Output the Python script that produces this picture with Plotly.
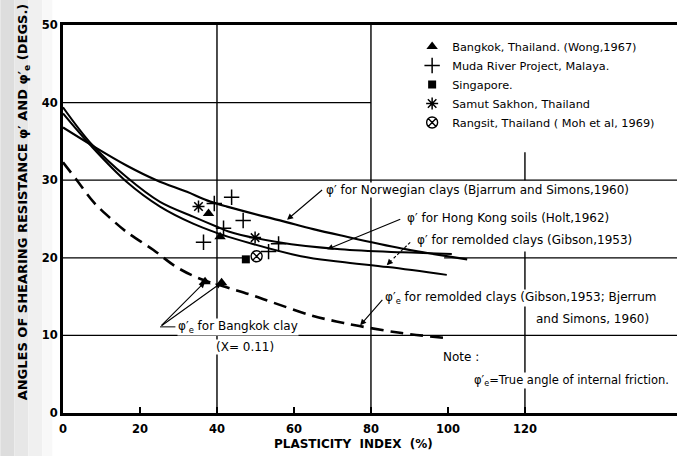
import plotly.graph_objects as go

# ---------------- data ----------------
# phi' for Norwegian clays (Bjerrum and Simons, 1960)
norw_x = [0, 7.5, 16.5, 24.3, 32.2, 37.4, 42.6, 58, 65, 72, 88, 105]
norw_y = [36.8, 34.5, 31.9, 30.0, 28.5, 27.4, 26.6, 24.6, 23.7, 22.9, 21.2, 19.8]
# phi' for Hong Kong soils (Holt, 1962)
hk_x = [0, 7.5, 16.5, 25.2, 33.8, 40, 43, 56, 72, 88, 101]
hk_y = [39.4, 34.6, 30.4, 27.2, 25.3, 24.0, 23.4, 22.0, 21.1, 20.7, 20.5]
# phi' for remolded clays (Gibson, 1953)
rem_x = [0, 7.5, 16.5, 25.2, 33.8, 40, 43, 61.8, 72, 84.4, 99.7]
rem_y = [38.6, 34.3, 29.8, 26.6, 24.4, 23.2, 22.7, 20.2, 19.5, 18.8, 17.8]
# phi'e for remolded clays (dashed)
reme_x = [0, 3.6, 7.9, 12.3, 16.6, 23.5, 29.5, 35.6, 42.5, 49, 56.5, 65, 71, 77, 88, 98.7]
reme_y = [32.3, 30.0, 27.2, 25.1, 23.3, 21.0, 18.8, 17.3, 16.2, 15.2, 13.9, 12.5, 11.8, 11.2, 10.3, 9.7]

# data points
bangkok_x = [37.8, 40.8, 36.9, 41.2]
bangkok_y = [25.7, 22.7, 16.9, 16.8]
muda_x = [39.3, 43.8, 46.8, 41.7, 36.5, 56.0, 53.4]
muda_y = [27.0, 27.8, 24.8, 23.8, 22.0, 21.8, 20.8]
singapore_x = [47.5]
singapore_y = [19.8]
samut_x = [35.2, 49.9]
samut_y = [26.6, 22.6]
rangsit_x = [50.3]
rangsit_y = [20.2]

x_ticks = [0, 20, 40, 60, 80, 100, 120]
y_ticks = [0, 10, 20, 30, 40, 50]

FONT = "DejaVu Sans"
fig = go.Figure()

# curves
fig.add_trace(go.Scatter(x=norw_x, y=norw_y, mode="lines", line=dict(color="black", width=2.2, shape="spline"), showlegend=False))
fig.add_trace(go.Scatter(x=hk_x, y=hk_y, mode="lines", line=dict(color="black", width=2.0, shape="spline"), showlegend=False))
fig.add_trace(go.Scatter(x=rem_x, y=rem_y, mode="lines", line=dict(color="black", width=2.0, shape="spline"), showlegend=False))
fig.add_trace(go.Scatter(x=reme_x, y=reme_y, mode="lines", line=dict(color="black", width=2.6, shape="spline", dash="13px,7px"), showlegend=False))

# points
fig.add_trace(go.Scatter(x=bangkok_x, y=bangkok_y, mode="markers", name="Bangkok, Thailand. (Wong,1967)",
                         marker=dict(symbol="triangle-up", size=10, color="black")))
fig.add_trace(go.Scatter(x=muda_x, y=muda_y, mode="markers", name="Muda River Project, Malaya.",
                         marker=dict(symbol="cross-thin-open", size=11, color="black", line=dict(width=1.5, color="black"))))
fig.add_trace(go.Scatter(x=singapore_x, y=singapore_y, mode="markers", name="Singapore.",
                         marker=dict(symbol="square", size=8, color="black")))
fig.add_trace(go.Scatter(x=samut_x, y=samut_y, mode="markers", name="Samut Sakhon, Thailand",
                         marker=dict(symbol="asterisk-open", size=10, color="black", line=dict(width=1.5, color="black"))))
fig.add_trace(go.Scatter(x=rangsit_x, y=rangsit_y, mode="markers", name="Rangsit, Thailand ( Moh et al, 1969)",
                         marker=dict(symbol="circle-x-open", size=11, color="black", line=dict(width=1.4, color="black"))))

# grid lines (partial, as in the original)
shapes = []
def hline(y, x0, x1):
    shapes.append(dict(type="line", xref="x", yref="y", x0=x0, x1=x1, y0=y, y1=y, line=dict(color="black", width=1.2), layer="below"))
def vline(x, y0, y1):
    shapes.append(dict(type="line", xref="x", yref="y", x0=x, x1=x, y0=y0, y1=y1, line=dict(color="black", width=1.4), layer="below"))
hline(10, 0, 160)
hline(20, 0, 47.5)
hline(20, 99, 160)
hline(30, 0, 160)
hline(40, 0, 80)
vline(40, 0, 50)
vline(80, 0, 50)
vline(120, 0, 20.8)
vline(120, 30, 33.6)
# short leader to Bangkok label
shapes.append(dict(type="line", xref="x", yref="y", x0=25.2, x1=29.2, y0=11.1, y1=11.1, line=dict(color="black", width=1)))
# dashed leader for the remolded-clay phi' label
shapes.append(dict(type="line", xref="x", yref="y", x0=90.2, x1=85.6, y0=22.0, y1=19.8, line=dict(color="black", width=1.1, dash="3px,2px")))

# pixel -> paper helpers (plot area: x 62.7..677, y 25..413)
def px(p):
    return (p - 62.7) / 614.3
def py(p):
    return 1 - (p - 25) / 388

# stippled scan edge on the left
for a, b, c in [(0, 14, "#dddddd"), (14, 28, "#e7e7e7"), (28, 42, "#f0f0f0"), (42, 52, "#f8f8f8")]:
    shapes.append(dict(type="rect", xref="paper", yref="paper", x0=px(a), x1=px(b), y0=py(456), y1=py(0),
                       fillcolor=c, line=dict(width=0), layer="below"))

annotations = []
def label(x, y, text, size=12, anchor="left", bg=True):
    annotations.append(dict(x=x, y=y, xref="x", yref="y", text=text, showarrow=False, xanchor=anchor, yanchor="middle",
                            font=dict(family=FONT, size=size, color="black"),
                            bgcolor="white" if bg else None, borderpad=0))
def arrow(hx, hy, tx, ty):
    annotations.append(dict(x=hx, y=hy, ax=tx, ay=ty, xref="x", yref="y", axref="x", ayref="y", text="",
                            showarrow=True, arrowhead=2, arrowsize=1.1, arrowwidth=1.1, arrowcolor="black",
                            standoff=0, startstandoff=0))

label(68.0, 28.7, "φ′ for Norwegian clays (Bjarrum and Simons,1960)")
arrow(58.2, 24.9, 67.7, 28.9)
label(89.0, 25.1, "φ′ for Hong Kong soils (Holt,1962)")
arrow(68.6, 21.1, 88.0, 25.06)
label(91.6, 22.3, "φ′ for remolded clays (Gibson,1953)")
arrow(84.1, 19.05, 85.7, 19.85)
label(83.5, 14.8, "φ′<sub>e</sub> for remolded clays (Gibson,1953; Bjerrum")
label(122.7, 12.1, "and Simons, 1960)")
arrow(77.2, 11.3, 83.3, 14.76)
label(29.7, 11.1, "φ′<sub>e</sub> for Bangkok clay")
label(47.3, 8.5, "(X= 0.11)", anchor="center")
arrow(36.9, 16.9, 25.2, 11.1)
arrow(41.2, 16.8, 25.2, 11.1)
label(98.5, 7.2, "Note :")
label(106.6, 4.25, "φ′<sub>e</sub>=True angle of internal friction.", size=11.5)

# axis titles
annotations.append(dict(x=px(24), y=py(202), xref="paper", yref="paper", textangle=-90,
                        text="ANGLES OF SHEARING RESISTANCE φ′ AND φ′<sub>e</sub> (DEGS.)", showarrow=False,
                        font=dict(family=FONT, size=13, color="black", weight="bold"), xanchor="center", yanchor="middle"))
annotations.append(dict(x=px(353), y=py(444), xref="paper", yref="paper",
                        text="PLASTICITY\u00a0\u00a0INDEX\u00a0\u00a0(%)", showarrow=False,
                        font=dict(family=FONT, size=12, color="black", weight="bold"), xanchor="center", yanchor="middle"))

fig.update_layout(
    width=677, height=456,
    margin=dict(l=63, r=0, t=25, b=43),
    paper_bgcolor="white", plot_bgcolor="white",
    shapes=shapes, annotations=annotations,
    legend=dict(x=px(412), y=py(32), xanchor="left", yanchor="top", bgcolor="rgba(0,0,0,0)",
                font=dict(family=FONT, size=11.3, color="black"), traceorder="normal"),
    xaxis=dict(range=[0, 159.5], tickvals=x_ticks, ticktext=[str(v) for v in x_ticks], showgrid=False, zeroline=False,
               showline=True, linewidth=3, linecolor="black", mirror=True,
               ticks="inside", ticklen=6, tickwidth=1.5, tickcolor="black", ticklabelstandoff=3,
               tickfont=dict(family=FONT, size=11.5, color="black", weight="bold")),
    yaxis=dict(range=[0, 50], tickvals=y_ticks, ticktext=[str(v) for v in y_ticks], showgrid=False, zeroline=False,
               showline=True, linewidth=3, linecolor="black", ticks="",
               tickfont=dict(family=FONT, size=11.5, color="black", weight="bold")),
)

fig.write_html("out.html", config={"displayModeBar": False},
               post_script="document.body.style.margin='0';")
